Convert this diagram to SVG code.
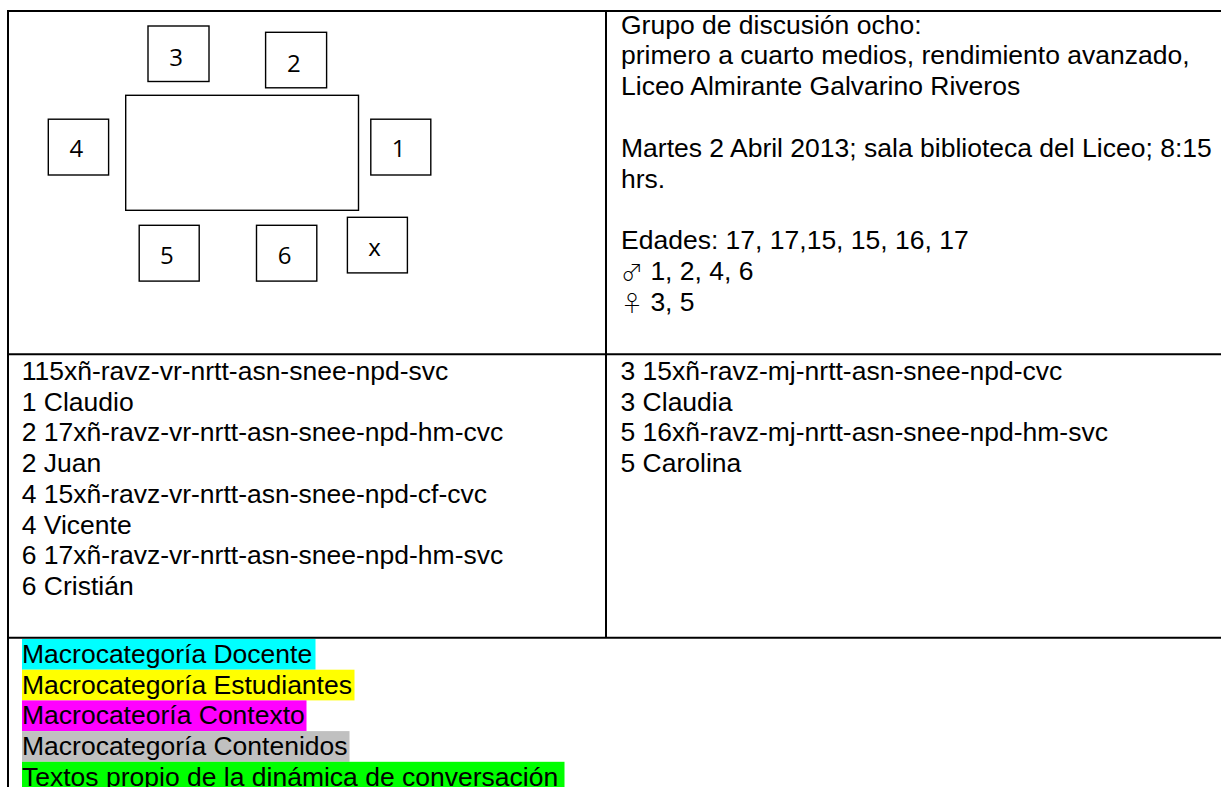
<svg xmlns="http://www.w3.org/2000/svg" width="1221" height="787" viewBox="0 0 1221 787">
<style>
.grid{stroke:#000;stroke-width:2;fill:none}
.seat{fill:#fff;stroke:#000;stroke-width:1.4}
.num{font-family:"Open Sans","Liberation Sans",sans-serif;font-size:24px;fill:#000;text-anchor:middle}
.t{font-family:"Liberation Sans",Arial,sans-serif;font-size:26.5px;fill:#000}
.sym{font-family:"Noto Sans CJK JP","DejaVu Sans",sans-serif;font-size:22px;font-weight:300}
</style>
<rect width="1221" height="787" fill="#fff"/>
<g id="table-grid">
<line class="grid" x1="8" y1="11" x2="1221" y2="11"/>
<line class="grid" x1="8" y1="10" x2="8" y2="787"/>
<line class="grid" x1="606" y1="11" x2="606" y2="638"/>
<line class="grid" x1="8" y1="354.3" x2="1221" y2="354.3"/>
<line class="grid" x1="8" y1="637.7" x2="1221" y2="637.7"/>
</g>
<g id="mesa"><rect class="seat" x="125.7" y="95.3" width="232.8" height="115"/></g>
<g id="seat-3"><rect class="seat" x="148" y="26" width="61" height="55.5"/><text class="num" x="176.2" y="65.5">3</text></g>
<g id="seat-2"><rect class="seat" x="265.6" y="32.3" width="61" height="55.5"/><text class="num" x="293.8" y="71.5">2</text></g>
<g id="seat-4"><rect class="seat" x="48.3" y="119.2" width="60.3" height="55.8"/><text class="num" x="76.3" y="157.3">4</text></g>
<g id="seat-1"><rect class="seat" x="370.8" y="119.2" width="60" height="55.8"/><text class="num" x="398.5" y="157.3">1</text></g>
<g id="seat-5"><rect class="seat" x="139.2" y="225.3" width="60" height="55.8"/><text class="num" x="166.8" y="264">5</text></g>
<g id="seat-6"><rect class="seat" x="256.5" y="225.3" width="60.3" height="55.8"/><text class="num" x="284.6" y="264">6</text></g>
<g id="seat-x"><rect class="seat" x="347.4" y="217.3" width="60" height="55.6"/><text class="num" x="374.5" y="255.7">x</text></g>
<g id="info">
<text class="t" x="621" y="33.5">Grupo de discusión ocho:</text>
<text class="t" x="621" y="64.3">primero a cuarto medios, rendimiento avanzado,</text>
<text class="t" x="621" y="95.1">Liceo Almirante Galvarino Riveros</text>
<text class="t" x="621" y="156.7">Martes 2 Abril 2013; sala biblioteca del Liceo; 8:15</text>
<text class="t" x="621" y="187.5">hrs.</text>
<text class="t" x="621" y="249.1">Edades: 17, 17,15, 15, 16, 17</text>
<text class="t" x="621" y="279.9"><tspan class="sym">♂</tspan> 1, 2, 4, 6</text>
<text class="t" x="621" y="310.7"><tspan class="sym">♀</tspan> 3, 5</text>
</g>
<g id="codes-left">
<text class="t" x="21.7" y="380">115xñ-ravz-vr-nrtt-asn-snee-npd-svc</text>
<text class="t" x="21.7" y="410.7">1 Claudio</text>
<text class="t" x="21.7" y="441.4">2 17xñ-ravz-vr-nrtt-asn-snee-npd-hm-cvc</text>
<text class="t" x="21.7" y="472.1">2 Juan</text>
<text class="t" x="21.7" y="502.8">4 15xñ-ravz-vr-nrtt-asn-snee-npd-cf-cvc</text>
<text class="t" x="21.7" y="533.5">4 Vicente</text>
<text class="t" x="21.7" y="564.2">6 17xñ-ravz-vr-nrtt-asn-snee-npd-hm-svc</text>
<text class="t" x="21.7" y="594.9">6 Cristián</text>
</g>
<g id="codes-right">
<text class="t" x="620.5" y="380">3 15xñ-ravz-mj-nrtt-asn-snee-npd-cvc</text>
<text class="t" x="620.5" y="410.7">3 Claudia</text>
<text class="t" x="620.5" y="441.4">5 16xñ-ravz-mj-nrtt-asn-snee-npd-hm-svc</text>
<text class="t" x="620.5" y="472.1">5 Carolina</text>
</g>
<g id="legend">
<rect x="22" y="639" width="293.5" height="30.7" fill="#00ffff"/>
<rect x="22" y="669.7" width="332.5" height="30.7" fill="#ffff00"/>
<rect x="22" y="700.4" width="284.5" height="30.7" fill="#ff00ff"/>
<rect x="22" y="731.1" width="327.5" height="30.7" fill="#c0c0c0"/>
<rect x="22" y="761.8" width="542.5" height="30.7" fill="#00ff00"/>
<text class="t" x="22" y="663">Macrocategoría Docente</text>
<text class="t" x="22" y="693.7">Macrocategoría Estudiantes</text>
<text class="t" x="22" y="724.4">Macrocateoría Contexto</text>
<text class="t" x="22" y="755.1">Macrocategoría Contenidos</text>
<text class="t" x="22" y="785.8">Textos propio de la dinámica de conversación</text>
</g>
</svg>
